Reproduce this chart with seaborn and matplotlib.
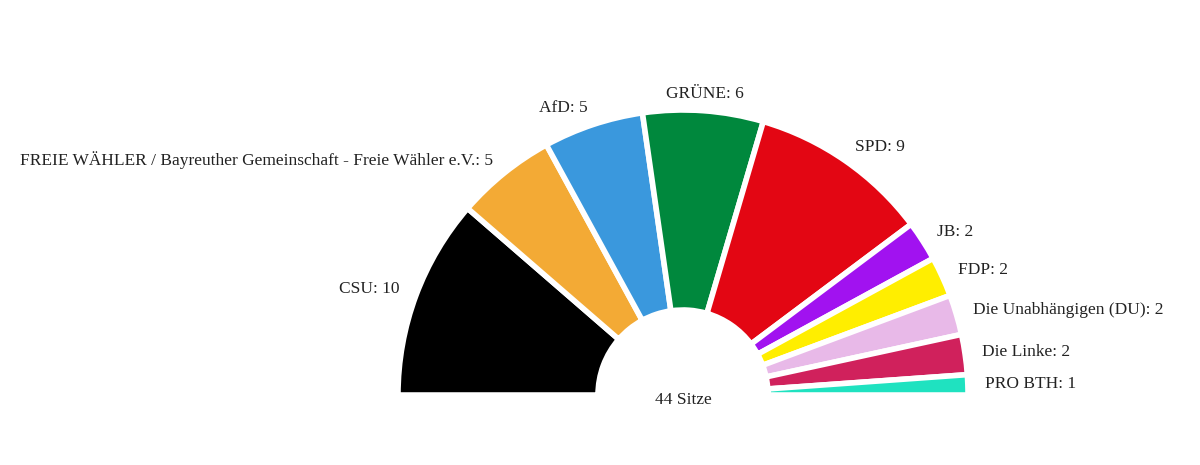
import numpy as np
import matplotlib
matplotlib.use("Agg")
import matplotlib.pyplot as plt
import seaborn as sns

parties = ["CSU", "FREIE WÄHLER / Bayreuther Gemeinschaft - Freie Wähler e.V.", "AfD", "GRÜNE",
           "SPD", "JB", "FDP", "Die Unabhängigen (DU)", "Die Linke", "PRO BTH"]
seats = [10, 5, 5, 6, 9, 2, 2, 2, 2, 1]
colors = ["#000000", "#f3aa35", "#3a98dd", "#00883d", "#e30613", "#a112f0",
          "#ffee00", "#e8b9e8", "#d0215c", "#1fe2c0"]

sns.set_theme(style="white")
plt.rcParams['font.family'] = ['Liberation Serif', 'DejaVu Serif']

fig = plt.figure(figsize=(12, 4.65), dpi=100)
ax = fig.add_axes([0, 0, 1, 1])
total = sum(seats)
cx, cy, R = 683, 70, 285

wedges, _ = ax.pie(seats + [total], colors=colors + ["none"], startangle=180,
                   counterclock=False, radius=R, center=(cx, cy), frame=True,
                   wedgeprops=dict(width=200, edgecolor="white", linewidth=4))
wedges[-1].set_edgecolor("none")

cum = 0
for name, s in zip(parties, seats):
    mid = 180 - (cum + s / 2) / total * 180
    cum += s
    a = np.deg2rad(mid)
    r = R * 1.06
    x, y = cx + r * np.cos(a), cy + r * np.sin(a)
    ha = "right" if mid > 100 else ("left" if mid < 80 else "center")
    ax.text(x, y, f"{name}: {s}", ha=ha, va="center", fontsize=12.5, color="#222222")

ax.text(cx, 65, f"{total} Sitze", ha="center", va="center", fontsize=12.5, color="#222222")
ax.set_xlim(0, 1200)
ax.set_ylim(0, 465)
ax.set_aspect("equal")
ax.axis("off")
fig.savefig("out.png", dpi=100, facecolor="white")
